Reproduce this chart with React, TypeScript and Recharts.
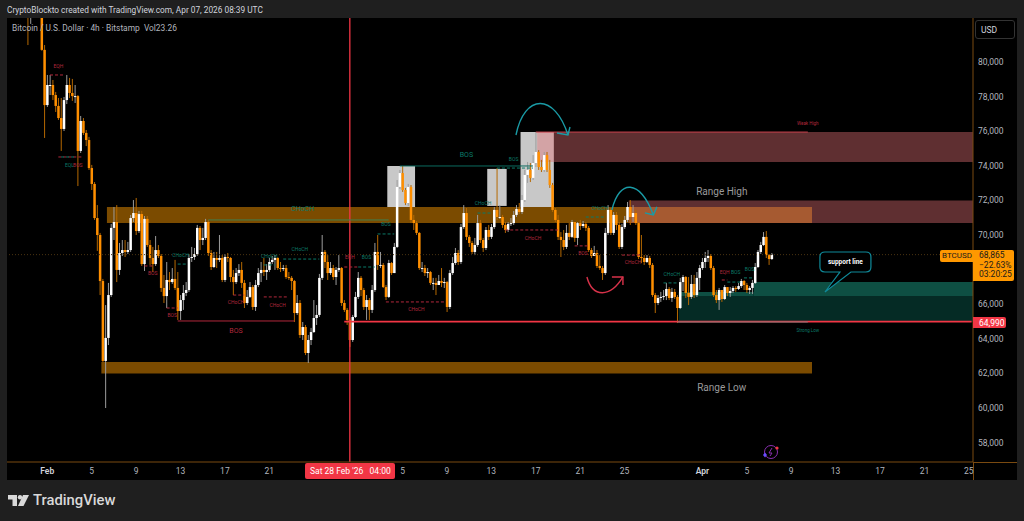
import React from 'react';
import { ComposedChart, Bar, XAxis, YAxis, ReferenceArea, ReferenceLine, ReferenceDot } from 'recharts';

// 6h slots on the time axis, first candle sits on slot 4
const firstSlot = 4;
const slotCount = 348;

const closes = [
  84500,84400,84000,83200,83500,84000,84200,83800,80700,77510,
  78670,78670,78090,77460,76760,76130,77800,78670,78210,78030,
  78030,74860,76590,75900,75490,73870,72950,70980,70000,67340,
  62720,64050,66530,70410,70750,67980,68960,69130,69020,69130,
  70980,71270,70230,71210,68320,70930,69420,68670,68320,69130,
  68790,66940,66470,67400,67280,67460,66940,65610,66240,66650,
  66820,68670,68730,68900,70410,69710,69830,70750,68960,68150,
  68670,68560,68670,67400,68730,68670,67570,67280,67800,67980,
  67230,66070,66420,66990,65840,67110,67800,67980,67860,67980,
  68440,68560,68670,68090,68040,68090,67570,67520,67340,65490,
  66070,64220,64680,63180,63930,64390,65200,65380,67520,69020,
  68440,67800,68090,67570,67980,68090,66070,65670,65090,63930,
  65260,66420,67520,66820,65840,66240,65670,66820,69020,68270,
  68270,66990,66420,68380,67800,69310,72780,73580,72600,71850,
  72780,70870,70690,70120,68090,68090,67800,67860,67230,67230,
  67110,67340,67230,67280,65840,67800,68380,68960,68440,70460,
  71270,69890,69540,69020,69420,70690,69710,69250,70290,69890,
  70460,71450,71040,71040,70580,70290,70640,70690,71160,71500,
  71330,72020,73470,73760,73300,74160,74800,73930,73760,74620,
  73760,72890,71450,70870,69890,69710,69310,70120,69890,70750,
  69830,70690,70520,70640,70410,69130,68790,68960,68210,68090,
  67800,70120,71450,70120,71160,70580,69310,70460,70870,71620,
  71040,71270,70690,68730,68670,68440,68670,68270,66530,66070,
  66360,66420,66470,66880,66360,66710,66420,65780,67280,67570,
  66650,66420,67170,66530,67520,68090,68440,68670,68790,68090,
  66530,66240,66820,66300,66990,66650,66760,66940,66880,67050,
  67340,67110,66820,66940,67230,68150,69020,69420,69890,68840,
  68610,68865,
];

const highs = [
  85000,85000,84800,84400,84300,84500,84700,84600,84000,80980,
  79250,79250,78960,78270,77920,77920,77980,79250,79080,79020,
  78670,78090,76880,76760,76070,75670,74050,73060,71730,70120,
  67460,65950,67230,70640,71620,71730,69540,69710,69710,69600,
  71160,72020,72140,71390,71390,71100,71100,69710,69310,69940,
  69420,68900,67690,68440,67860,68090,68560,67860,66530,67110,
  67280,68900,69310,69250,70580,70520,70410,70930,70870,69130,
  69020,69020,70000,68840,68900,68960,68730,67980,68090,68320,
  68440,67400,66820,67280,67110,67400,68090,68440,68670,68320,
  68670,68790,68840,68730,68440,68270,68270,67860,67630,67400,
  66530,66240,64970,64800,64220,64630,66240,65950,67750,70000,
  69130,68840,68440,68270,68150,68840,68150,66240,65780,65200,
  65380,66710,67860,67630,66940,66530,66360,67110,69540,70000,
  69020,68380,67110,68560,68440,69540,73180,73760,73990,72720,
  72950,72890,71160,70810,70170,68440,68270,68090,67920,67520,
  67520,67690,68090,67520,67340,67980,68730,69250,69130,70640,
  71730,71560,70000,69650,69830,71160,70870,69830,70460,70580,
  70640,71620,73870,71730,71160,70750,70750,70980,71390,71730,
  71850,72310,73760,74220,74160,74620,75950,74910,74340,74800,
  74800,74340,73010,71560,71160,70170,70290,70580,70690,70870,
  70580,70750,70870,70810,70750,70520,69250,69370,69130,68840,
  68210,70410,71730,71560,71330,71330,70750,70640,71100,71910,
  72020,71730,71450,70750,70000,68840,68840,68790,68380,66650,
  66530,66710,66820,67230,66990,66940,66880,66530,67520,67690,
  67630,67570,67690,67690,67860,68270,68670,69020,69130,68900,
  68210,66820,66940,66820,67110,66940,66990,67050,67050,67230,
  67460,67400,67230,67050,67400,68380,69130,69600,70170,70230,
  68900,68960,
];

const lows = [
  84000,84000,83400,80980,82200,83200,83600,83000,80650,75610,
  77400,78090,77800,77110,76650,74860,76010,77570,77920,77750,
  77630,72830,74740,75780,75140,73760,72600,70870,69080,66530,
  62660,60000,63640,66420,69710,67280,67690,68790,68730,68900,
  69020,70750,70000,70120,68210,67920,69310,68270,67860,68210,
  68670,66710,66070,65780,66820,67170,66820,65090,65090,65670,
  66470,66710,68440,68560,68790,69130,69420,69710,68790,67980,
  68090,68090,68440,67280,67280,68440,67280,66530,67170,67630,
  66940,65780,65950,66360,65670,65610,66990,67280,67630,67400,
  67860,68320,67980,67980,67860,67920,67460,67400,66820,64970,
  65380,64050,63930,63060,62600,63640,64340,64800,65260,67400,
  68090,67400,67690,67400,67110,67860,65900,65550,64800,63530,
  63820,65200,66300,66470,65670,65090,65090,65490,66710,67980,
  68090,66940,66240,66360,67690,67920,69250,72660,72490,71730,
  71680,70690,70290,70000,67980,67860,67630,67520,67110,66820,
  66530,67110,66990,66940,65550,65720,67690,68270,68270,68320,
  70350,69710,69310,68900,68840,69310,69540,69020,69130,69710,
  69770,70350,70870,70930,70410,70120,70170,70520,70580,71040,
  71210,71210,71910,73010,73060,73180,73930,73760,73640,73640,
  73640,72720,71330,70750,69710,68730,69130,69190,69710,69830,
  69600,69420,70290,70410,70230,69020,68670,68790,68090,67980,
  67400,67690,70000,70000,70000,70290,69190,69190,70350,70750,
  70580,70750,70580,68610,68380,68270,68380,68090,66420,65490,
  65950,66130,66240,66240,66240,66130,66300,64910,65720,66760,
  66360,65950,66300,66360,66420,66820,67980,68090,68440,67980,
  66420,66070,65670,66130,66240,66470,66420,66650,66710,66820,
  66940,66820,66650,66590,66590,67170,68090,68900,69370,68670,
  68270,68560,
];

// 68,000 is left out: the price label covers it in the reference
const priceTicks = [58000, 60000, 62000, 64000, 66000, 70000, 72000, 74000, 76000, 78000, 80000];
const dateSlots = [14, 30, 46, 62, 78, 94, 142, 158, 174, 190, 206, 222, 250, 266, 282, 298, 314, 330, 346];
const dateLabels = ['Feb', '5', '9', '13', '17', '21', '5', '9', '13', '17', '21', '25', 'Apr', '5', '9', '13', '17', '21', '25'];

const lastPrice = 68865;
const rangeLine = 64990;
const crossSlot = 123;

const ORANGE = '#ff8f00';
const RED = '#b2283c';
const TEAL = '#0b7a68';

// zones: slot from, slot to, price top, price bottom, fill, opacity
const zones: [number, number, number, number, string, number][] = [
  [137, 146, 73990, 71620, '#c8c8c8', 1],
  [173, 179, 73820, 71680, '#c8c8c8', 1],
  [185, 196, 75950, 71620, '#c8c8c8', 1],
  [36, 289, 71620, 70690, '#7b4b00', 1],
  [34, 289, 62660, 61990, '#7b4b00', 1],
  [191, 347, 75950, 74220, '#e27075', 0.42],
  [224, 347, 71990, 70690, '#e27075', 0.42],
  [242, 347, 66470, 64970, '#052b25', 1],
  [242, 268, 66710, 66470, '#0e4f43', 1],
  [269, 347, 67280, 66470, '#0e4f43', 1],
];

// solid lines: slot from, slot to, price, colour, width
const lines: [number, number, number, string, number][] = [
  [61, 103, 65030, '#b2283c', 1],
  [72, 137, 70870, '#3f7f4f', 1],
  [141, 189, 73990, '#0b6b5f', 1],
  [190, 288, 75950, '#c8404c', 1],
  [121, 347, rangeLine, '#f23645', 1.8],
  [241, 288, 64970, '#7a7a7a', 1],
];

// dashed structure lines: slot from, slot to, price, colour
const dashes: [number, number, number, string][] = [
  [61, 64, 68320, TEAL],
  [99, 112, 68610, TEAL],
  [92, 96, 68270, TEAL],
  [49, 52, 68210, RED],
  [57, 61, 65780, RED],
  [81, 85, 66530, RED],
  [92, 101, 66420, RED],
  [126, 132, 68150, TEAL],
  [121, 126, 68150, RED],
  [133, 139, 70060, TEAL],
  [136, 157, 66130, RED],
  [169, 174, 71270, TEAL],
  [176, 189, 73870, TEAL],
  [179, 198, 70290, RED],
  [204, 209, 69370, RED],
  [208, 215, 71040, TEAL],
  [221, 228, 68840, RED],
  [236, 241, 67230, TEAL],
  [259, 264, 67280, TEAL],
  [265, 268, 67520, TEAL],
  [257, 259, 67400, RED],
  [15, 20, 79250, RED],
  [18, 27, 74510, RED],
  [19, 24, 74510, TEAL],
];

// chart labels: slot, price, text, colour, size
const labels: [number, number, string, string, number][] = [
  [18, 79710, 'EQH', RED, 5],
  [22, 73990, 'EQL', TEAL, 5],
  [25, 73990, 'BOS', RED, 5],
  [52, 67750, 'BOS', RED, 5],
  [59, 65320, 'BOS', RED, 5],
  [62, 68790, 'CHoCH', TEAL, 5],
  [94, 68730, 'CHoCH', TEAL, 5],
  [105, 69130, 'CHoCH', TEAL, 5],
  [82, 66070, 'CHoCH', RED, 5],
  [97, 65900, 'CHoCH', RED, 5],
  [123, 68670, 'EQH', RED, 5],
  [129, 68670, 'BOS', TEAL, 5],
  [136, 70580, 'BOS', TEAL, 5],
  [147, 65670, 'CHoCH', RED, 5],
  [171, 71790, 'CHoCH', TEAL, 5],
  [182, 74340, 'BOS', TEAL, 5],
  [189, 69770, 'CHoCH', RED, 5],
  [207, 68900, 'BOS', RED, 5],
  [225, 68380, 'CHoCH', RED, 5],
  [213, 71500, 'CHoCH', TEAL, 5],
  [239, 67690, 'CHoCH', TEAL, 5],
  [258, 67800, 'EQH', RED, 5],
  [262, 67800, 'BOS', TEAL, 5],
  [267, 67980, 'BOS', TEAL, 5],
  [288, 76420, 'Weak High', RED, 4.5],
  [288, 64450, 'Strong Low', TEAL, 4.5],
  [82, 64450, 'BOS', RED, 7],
  [165, 74620, 'BOS', TEAL, 7],
  [106, 71500, 'CHoCH', TEAL, 7],
  [257, 72490, 'Range High', '#9a9a9a', 10],
  [257, 61160, 'Range Low', '#9a9a9a', 10],
];

const rows = Array.from({ length: slotCount }, (_, slot) => {
  const i = slot - firstSlot;
  if (i < 0 || i >= closes.length) return { slot };
  const open = i === 0 ? closes[0] : closes[i - 1];
  const close = closes[i];
  const high = Math.max(highs[i], open, close);
  const low = Math.min(lows[i], open, close);
  return { slot, open, close, high, low, range: [low, high] };
});

const Candle = (props: any) => {
  const { x, y, width, height, payload } = props;
  if (payload.high === undefined) return null;
  const top = Math.min(y, y + height);
  const perPrice = Math.abs(height) / (payload.high - payload.low || 1);
  const yOf = (p: number) => top + (payload.high - p) * perPrice;
  const up = payload.close >= payload.open;
  const cx = x + width / 2;
  const bodyTop = yOf(Math.max(payload.open, payload.close));
  const bodyH = Math.max(1, Math.abs(payload.close - payload.open) * perPrice);
  return (
    <g>
      <line x1={cx} x2={cx} y1={top} y2={top + Math.abs(height)} stroke={up ? '#9c9c9c' : '#b56800'} strokeWidth={1} />
      <rect x={cx - 1.25} y={bodyTop} width={2.5} height={bodyH} fill={up ? '#ffffff' : ORANGE} />
    </g>
  );
};

const DateTick = (props: any) => {
  const { x, y, payload } = props;
  const idx = dateSlots.indexOf(payload.value);
  const label = dateLabels[idx];
  const strong = label === 'Feb' || label === 'Apr';
  return (
    <text x={x} y={y} textAnchor="middle" dominantBaseline="middle" fontFamily="Roboto" fontSize={8.5}
      fontWeight={strong ? 600 : 400} fill={strong ? '#d1d4dc' : '#b2b5be'}>{label}</text>
  );
};

const chartLabel = (text: string, colour: string, size: number) => (p: any) => (
  <text x={p.cx} y={p.cy} textAnchor="middle" dominantBaseline="middle" fontFamily="Roboto" fontSize={size} fill={colour}>{text}</text>
);

const Curve = ({ cx, cy, d, barbs, colour }: any) => (
  <g transform={`translate(${cx},${cy})`} fill="none" stroke={colour} strokeWidth={1.4}>
    <path d={d} />
    <path d={barbs} />
  </g>
);

const Callout = ({ cx, cy }: any) => (
  <g transform={`translate(${cx},${cy})`}>
    <path d="M-19,-10 H22 Q27,-10 27,-5 V5 Q27,10 22,10 H7 L-19,30 L-4,10 H-19 Q-24,10 -24,5 V-5 Q-24,-10 -19,-10 Z"
      fill="#000" stroke="#0f8a9a" strokeWidth={1.2} />
    <text x={1.5} y={0} textAnchor="middle" dominantBaseline="middle" fontFamily="Roboto" fontSize={6.5} fontWeight={700} fill="#fff">support line</text>
  </g>
);

const box = (left: number, top: number, width: number, height: number, background: string): React.CSSProperties => ({
  position: 'absolute', left, top, width, height, background,
});

const textStyle = (left: number, top: number, size: number, color: string, extra: React.CSSProperties = {}): React.CSSProperties => ({
  position: 'absolute', left, top, fontFamily: 'Roboto', fontSize: size, color, whiteSpace: 'pre', lineHeight: 1, ...extra,
});

export default function App() {
  return (
    <div style={box(0, 0, 1024, 521, '#1f1f1f')}>
      <div style={box(7, 18, 1010, 462, '#000')} />
      <div style={box(973, 462, 44, 1, '#7a4a10')} />
      <div style={box(973, 462, 1, 18, '#7a4a10')} />

      <div style={{ position: 'absolute', left: 0, top: 0 }}>
        <ComposedChart width={1024} height={521} data={rows} barCategoryGap={0}
          margin={{ top: 18, right: 7, bottom: 41, left: 7 }}>
          <XAxis dataKey="slot" type="category" scale="band" ticks={dateSlots} interval={0} height={18}
            axisLine={{ stroke: '#7a4a10' }} tickLine={false} tickMargin={4} tick={<DateTick />} />
          <YAxis orientation="right" width={44} type="number" domain={[56879, 82543]} allowDataOverflow
            ticks={priceTicks} axisLine={{ stroke: '#7a4a10' }} tickLine={false} tickSize={0} tickMargin={5}
            tick={{ fill: '#b2b5be', fontSize: 8.5, fontFamily: 'Roboto' }}
            tickFormatter={(v: number) => v.toLocaleString('en-US')} />

          {zones.map(([x1, x2, y1, y2, fill, opacity], i) => (
            <ReferenceArea key={`z${i}`} x1={x1} x2={x2} y1={y1} y2={y2} fill={fill} fillOpacity={opacity} stroke="none" />
          ))}
          <ReferenceLine y={lastPrice} stroke="#4a3310" strokeDasharray="1 2" />
          <ReferenceLine x={crossSlot} stroke="#f23645" strokeWidth={1.3} />

          <Bar dataKey="range" shape={<Candle />} isAnimationActive={false} />

          {lines.map(([x1, x2, y, colour, w], i) => (
            <ReferenceLine key={`l${i}`} segment={[{ x: x1, y }, { x: x2, y }]} stroke={colour} strokeWidth={w} />
          ))}
          {dashes.map(([x1, x2, y, colour], i) => (
            <ReferenceLine key={`d${i}`} segment={[{ x: x1, y }, { x: x2, y }]} stroke={colour} strokeDasharray="3 2" />
          ))}
          {labels.map(([x, y, text, colour, size], i) => (
            <ReferenceDot key={`t${i}`} x={x} y={y} r={0} shape={chartLabel(text, colour, size)} />
          ))}

          <ReferenceDot x={191} y={77630} r={0} shape={(p: any) => (
            <Curve {...p} colour="#1a9ba6" d="M-22.6,32 C-14,-10 16,-10 29.4,32" barbs="M18.4,30 L29.4,32 L31.4,24" />
          )} />
          <ReferenceDot x={223} y={72780} r={0} shape={(p: any) => (
            <Curve {...p} colour="#1a9ba6" d="M-15.5,23 C-8,-8 12,-8 26,28" barbs="M17.5,26 L26,28 L29.5,20" />
          )} />
          <ReferenceDot x={214} y={66650} r={0} shape={(p: any) => (
            <Curve {...p} colour="#d8324a" d="M-15.5,-16 C-10,5 8,5 20.5,-16" barbs="M9.5,-16 L20.5,-16 L20.5,-8" />
          )} />
          <ReferenceDot x={301} y={68440} r={0} shape={(p: any) => <Callout {...p} />} />
        </ComposedChart>
      </div>

      <div style={textStyle(7, 6, 8.3, '#d1d4dc')}>CryptoBlockto created with TradingView.com, Apr 07, 2026 08:39 UTC</div>
      <div style={textStyle(12, 24, 8.4, '#b2b5be')}>{'Bitcoin / U.S. Dollar · 4h · Bitstamp  Vol23.26'}</div>

      <div style={{ ...box(975, 20, 40, 19, 'transparent'), border: '1px solid #333', borderRadius: 3, boxSizing: 'border-box' }} />
      <div style={textStyle(981, 26, 8.5, '#d1d4dc')}>USD</div>

      <div style={{ ...box(940, 250, 33, 12, '#ff9800'), borderRadius: '2px 0 0 2px' }} />
      <div style={textStyle(942, 252, 8, '#1a1a1a')}>BTCUSD</div>
      <div style={{ ...box(973, 250, 41, 31, '#ff9800'), borderRadius: '0 2px 2px 0' }} />
      <div style={textStyle(979, 251, 8.5, '#1a1a1a')}>68,865</div>
      <div style={textStyle(979, 260.5, 8.5, '#1a1a1a')}>−22.63%</div>
      <div style={textStyle(979, 270, 8.5, '#1a1a1a')}>03:20:25</div>

      <div style={{ ...box(973, 317, 33, 11, '#f23645'), borderRadius: '0 2px 2px 0' }} />
      <div style={textStyle(979, 318.5, 8.5, '#ffffff')}>64,990</div>

      <div style={{ ...box(305, 463, 90, 16, '#f23645'), borderRadius: 2 }} />
      <div style={textStyle(310, 467, 8.5, '#ffffff')}>{"Sat 28 Feb '26   04:00"}</div>

      <svg style={{ position: 'absolute', left: 760, top: 442 }} width={24} height={18}>
        <circle cx={11} cy={10} r={6.5} fill="none" stroke="#8a2fb0" strokeWidth={1} />
        <path d="M12,6 L9,11 H12 L10,14" fill="none" stroke="#8a2fb0" strokeWidth={1} />
        <circle cx={17} cy={6} r={1.6} fill="#f23645" />
        <path d="M5,10.5 L7,13 L5,15.5 L3,13 Z" fill="#6a4cff" />
      </svg>

      <svg style={{ position: 'absolute', left: 8, top: 494 }} width={22} height={14}>
        <path d="M0,1 H9 V12 H4.5 V5.5 H0 Z" fill="#d9d9d9" />
        <circle cx={12} cy={3.2} r={2.2} fill="#d9d9d9" />
        <path d="M15,1 H21 L15.5,12 H10 Z" fill="#d9d9d9" />
      </svg>
      <div style={textStyle(33, 493, 14.8, '#d9d9d9', { fontWeight: 500 })}>TradingView</div>
    </div>
  );
}
